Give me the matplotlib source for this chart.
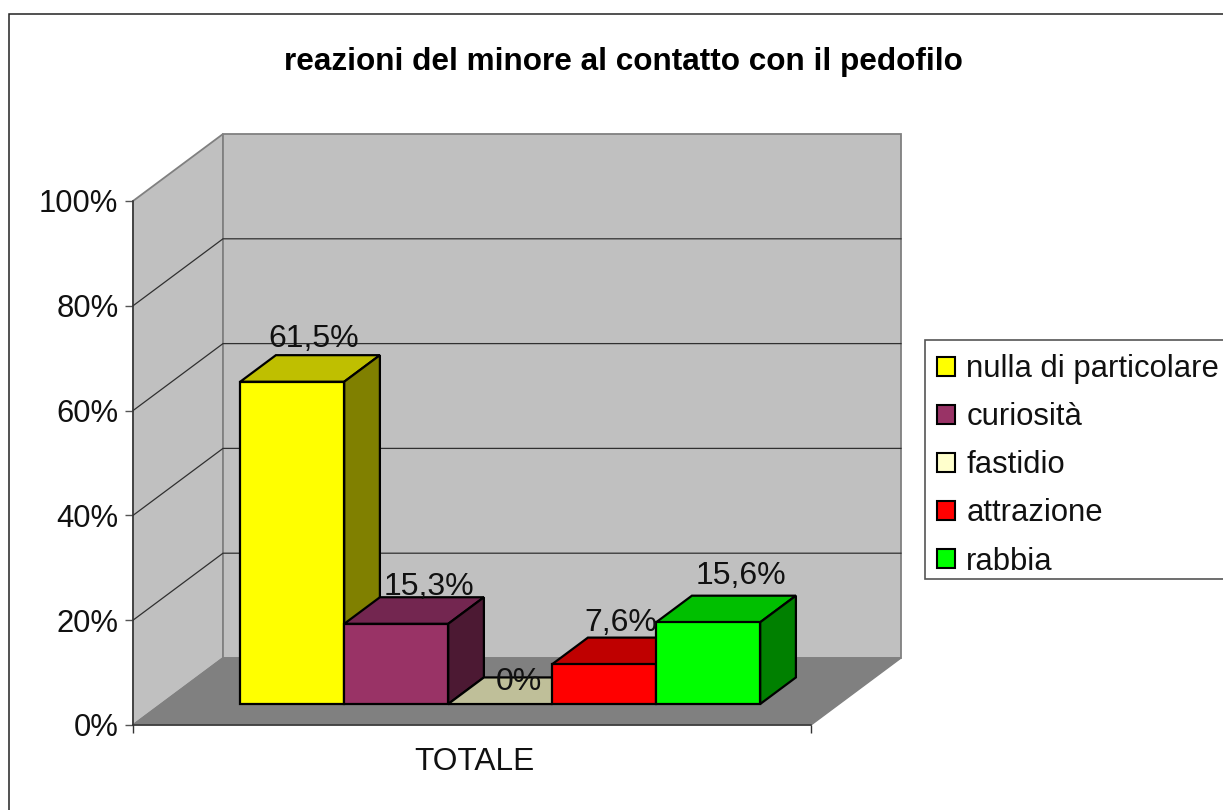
import matplotlib
matplotlib.use("Agg")
import matplotlib.pyplot as plt
from matplotlib.patches import Polygon, Rectangle, Patch

title = "reazioni del minore al contatto con il pedofilo"
categories = ["nulla di particolare", "curiosità", "fastidio", "attrazione", "rabbia"]
values = [61.5, 15.3, 0.0, 7.6, 15.6]
value_labels = ["61,5%", "15,3%", "0%", "7,6%", "15,6%"]
front_colors = ["#FFFF00", "#993366", "#FFFFCC", "#FF0000", "#00FF00"]
top_colors = ["#BFBF00", "#732650", "#BFBF99", "#BF0000", "#00BF00"]
side_colors = ["#808000", "#4C1933", "#808066", "#800000", "#008000"]
y_ticks = [0, 20, 40, 60, 80, 100]
y_tick_labels = ["0%", "20%", "40%", "60%", "80%", "100%"]
group_label = "TOTALE"

# label nudges relative to the bar's front-top centre (pixels)
label_dx = [22, 33, 19, 17, 33]
label_dy = [35, 29, 14, 33, 38]

W, H = 1223, 810
plt.rcParams["font.family"] = ["Liberation Sans", "DejaVu Sans"]
fig = plt.figure(figsize=(W / 100, H / 100), dpi=100)
fig.add_artist(Rectangle((9 / W, 1 - 830 / H), 1300 / W, 816 / H, transform=fig.transFigure,
                         fc="white", ec="#222222", lw=1.1, zorder=-5))
fig.add_artist(Rectangle((925 / W, 1 - 579 / H), 400 / W, 239 / H, transform=fig.transFigure,
                         fc="white", ec="#555555", lw=1.2, zorder=-4))

L, R, T, B = 133, 811, 201, 725
ax = fig.add_axes([L / W, 1 - B / H, (R - L) / W, (B - T) / H])
ax.set_xlim(0, 1)
ax.set_ylim(0, 100)
ax.patch.set_visible(False)

DX = 90 / (R - L)          # oblique shift of full depth, x units
DY = 67 / (B - T) * 100    # oblique shift of full depth, y units


def proj(x, y, d):
    return (x + d * DX, y + d * DY)


def face(pts, fc, ec, lw, z):
    ax.add_patch(Polygon(pts, closed=True, fc=fc, ec=ec, lw=lw, zorder=z, clip_on=False,
                         joinstyle="miter"))


# walls and floor
face([proj(0, 0, 0), proj(0, 100, 0), proj(0, 100, 1), proj(0, 0, 1)], "#C0C0C0", "#808080", 1.3, 1)
face([proj(0, 0, 1), proj(0, 100, 1), proj(1, 100, 1), proj(1, 0, 1)], "#C0C0C0", "#808080", 1.3, 1)
face([proj(0, 0, 0), proj(0, 0, 1), proj(1, 0, 1), proj(1, 0, 0)], "#808080", "#808080", 1.0, 1)
for t in y_ticks[1:-1]:
    xs, ys = zip(proj(0, t, 0), proj(0, t, 1), proj(1, t, 1))
    ax.plot(xs, ys, color="#303030", lw=0.9, zorder=2, clip_on=False, solid_joinstyle="miter")

# bars
bar_w = 104 / (R - L)
gap = (1 - 5 * bar_w) / 2
d0, d1 = 0.313, 0.71
for i, v in enumerate(values):
    x0 = gap + i * bar_w
    x1 = x0 + bar_w
    z = 3 + i
    face([proj(x0, v, d0), proj(x0, v, d1), proj(x1, v, d1), proj(x1, v, d0)], top_colors[i], "black", 1.6, z)
    if v > 0:
        face([proj(x1, 0, d0), proj(x1, 0, d1), proj(x1, v, d1), proj(x1, v, d0)], side_colors[i], "black", 1.6, z)
        face([proj(x0, 0, d0), proj(x0, v, d0), proj(x1, v, d0), proj(x1, 0, d0)], front_colors[i], "black", 1.6, z)
    ax.annotate(value_labels[i], proj((x0 + x1) / 2, v, d0), xytext=(label_dx[i], label_dy[i]),
                textcoords="offset pixels", ha="center", va="baseline", fontsize=23,
                color="#111111", zorder=20, annotation_clip=False)

# axes
for s in ["top", "right"]:
    ax.spines[s].set_visible(False)
for s in ["left", "bottom"]:
    ax.spines[s].set_color("#333333")
    ax.spines[s].set_linewidth(1.1)
    ax.spines[s].set_zorder(2.5)
ax.set_yticks(y_ticks)
ax.set_yticklabels(y_tick_labels, fontsize=22.3, color="#111111")
ax.tick_params(axis="y", length=6, width=1.0, color="#555555", pad=4.5)
ax.set_xticks([0, 1])
ax.set_xticklabels(["", ""])
ax.tick_params(axis="x", which="major", length=6, width=1.0, color="#333333")
ax.set_xticks([0.503], minor=True)
ax.set_xticklabels([group_label], minor=True, fontsize=22.8, color="#111111")
ax.tick_params(axis="x", which="minor", length=0, pad=15.5)

fig.text(623 / W, 1 - 70 / H, title, ha="center", va="baseline", fontsize=22.7,
         fontweight="bold", color="black")

# legend
handles = [Patch(fc=c, ec="black", lw=1.5) for c in front_colors]
leg = ax.legend(handles, categories, loc="upper left", bbox_to_anchor=(925 / W, 1 - 342 / H),
                bbox_transform=fig.transFigure, fontsize=22.3, frameon=False,
                borderaxespad=0, borderpad=0.39,
                labelspacing=0.585, handlelength=0.58, handleheight=0.58, handletextpad=0.36)
leg.set_zorder(30)
for t in leg.get_texts():
    t.set_color("#111111")

fig.savefig("out.png", dpi=100)
